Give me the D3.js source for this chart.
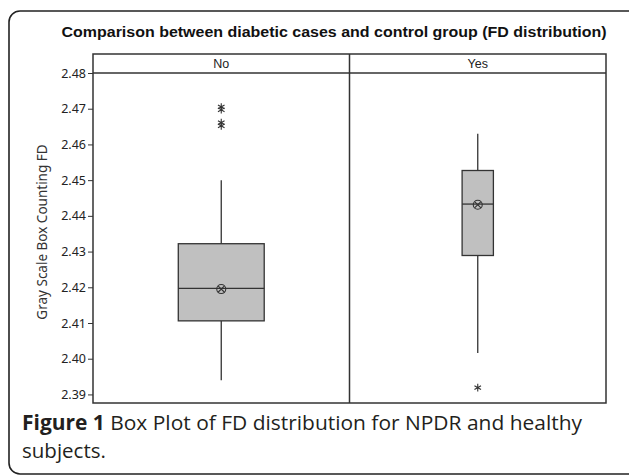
<!DOCTYPE html>
<html><head><meta charset="utf-8">
<script src="https://cdn.jsdelivr.net/npm/d3@7/dist/d3.min.js"></script>
<style>body{margin:0;background:#fff}svg{display:block}</style>
</head><body>
<svg id="c" width="629" height="476"></svg>
<script>
// ---- data ----
const groups = ["No", "Yes"];
const q1 = [2.4106, 2.4289];
const median = [2.4197, 2.4433];
const q3 = [2.4322, 2.4527];
const whiskerLow = [2.3940, 2.4016];
const whiskerHigh = [2.4500, 2.4630];
const means = [2.4195, 2.4431];
const outliersNo = [2.4705, 2.4697, 2.4661, 2.4652];
const outliersYes = [2.3919];
const yTicks = [2.39, 2.40, 2.41, 2.42, 2.43, 2.44, 2.45, 2.46, 2.47, 2.48];
const title = "Comparison between diabetic cases and control group (FD distribution)";
const yLabel = "Gray Scale Box Counting FD";

const svg = d3.select("#c");
const L = 93, R = 606, T = 54, S = 73, B = 403;

// outer frame
svg.append("rect").attr("x", 9).attr("y", 11).attr("width", 630).attr("height", 463)
  .attr("rx", 11).attr("fill", "none").attr("stroke", "#222").attr("stroke-width", 1.6);

svg.append("text").attr("x", 334).attr("y", 37).attr("text-anchor", "middle")
  .attr("font-family", "Liberation Sans, Arial, sans-serif").attr("font-size", 14)
  .attr("font-weight", "bold").attr("fill", "#111").attr("textLength", 545)
  .attr("lengthAdjust", "spacingAndGlyphs").text(title);

const x = d3.scaleBand().domain(groups).range([L, R]).padding(0);
const y = d3.scaleLinear().domain([2.3876, 2.48]).range([B, S]);

// strip
svg.append("rect").attr("x", L).attr("y", T).attr("width", R - L).attr("height", B - T)
  .attr("fill", "none").attr("stroke", "#333").attr("stroke-width", 1.5);
svg.append("line").attr("x1", L).attr("x2", R).attr("y1", S).attr("y2", S)
  .attr("stroke", "#333").attr("stroke-width", 1.5);
svg.append("line").attr("x1", x("Yes")).attr("x2", x("Yes")).attr("y1", T).attr("y2", B)
  .attr("stroke", "#333").attr("stroke-width", 1.5);
svg.selectAll(".strip").data(groups).join("text")
  .attr("x", d => x(d) + x.bandwidth() / 2).attr("y", 68).attr("text-anchor", "middle")
  .attr("font-family", "Liberation Sans, Arial, sans-serif").attr("font-size", 12.5)
  .attr("fill", "#222").text(d => d);

// axis
const ax = svg.append("g").attr("transform", `translate(${L},0)`)
  .call(d3.axisLeft(y).tickValues(yTicks).tickFormat(d3.format(".2f")).tickSize(5).tickPadding(2));
ax.select(".domain").remove();
ax.selectAll("line").attr("stroke", "#333");
ax.selectAll("text").attr("font-family", "Noto Sans, sans-serif").attr("font-size", 12.5).attr("fill", "#222");

svg.append("text").attr("transform", `translate(47,${(S + B) / 2 - 6}) rotate(-90)`)
  .attr("text-anchor", "middle").attr("font-family", "Noto Sans, sans-serif")
  .attr("font-size", 13.5).attr("fill", "#333").text(yLabel);

// boxes
const widthFrac = {No: 0.335, Yes: 0.122};
groups.forEach((g, i) => {
  const cx = x(g) + x.bandwidth() / 2;
  const w = x.bandwidth() * widthFrac[g];
  const gg = svg.append("g");
  gg.append("line").attr("x1", cx).attr("x2", cx).attr("y1", y(whiskerHigh[i])).attr("y2", y(q3[i]))
    .attr("stroke", "#333").attr("stroke-width", 1.3);
  gg.append("line").attr("x1", cx).attr("x2", cx).attr("y1", y(q1[i])).attr("y2", y(whiskerLow[i]))
    .attr("stroke", "#333").attr("stroke-width", 1.3);
  gg.append("rect").attr("x", cx - w / 2).attr("y", y(q3[i])).attr("width", w)
    .attr("height", y(q1[i]) - y(q3[i])).attr("fill", "#c0c0c0").attr("stroke", "#333").attr("stroke-width", 1.3);
  gg.append("line").attr("x1", cx - w / 2).attr("x2", cx + w / 2).attr("y1", y(median[i])).attr("y2", y(median[i]))
    .attr("stroke", "#333").attr("stroke-width", 1.3);
  const my = y(means[i]);
  gg.append("circle").attr("cx", cx).attr("cy", my).attr("r", 4.5).attr("fill", "none")
    .attr("stroke", "#333").attr("stroke-width", 1.1);
  gg.append("path").attr("d", d3.symbol(d3.symbolX, 28)()).attr("transform", `translate(${cx},${my})`)
    .attr("fill", "none").attr("stroke", "#333").attr("stroke-width", 1.1);
  const outs = g === "No" ? outliersNo : outliersYes;
  gg.selectAll(".o").data(outs).join("path")
    .attr("d", d3.symbol(d3.symbolAsterisk, 40)())
    .attr("transform", d => `translate(${cx},${y(d)})`)
    .attr("fill", "none").attr("stroke", "#333").attr("stroke-width", 1.1);
});

// caption
const cap = svg.append("text").attr("x", 22).attr("y", 430)
  .attr("font-family", "Open Sans, sans-serif").attr("font-size", 20.5).attr("fill", "#231f20")
  .attr("textLength", 560).attr("lengthAdjust", "spacingAndGlyphs");
cap.append("tspan").attr("font-weight", "bold").text("Figure 1");
cap.append("tspan").text(" Box Plot of FD distribution for NPDR and healthy");
svg.append("text").attr("x", 22).attr("y", 458)
  .attr("font-family", "Open Sans, sans-serif").attr("font-size", 20.5).attr("fill", "#231f20")
  .text("subjects.");
</script>
</body></html>
